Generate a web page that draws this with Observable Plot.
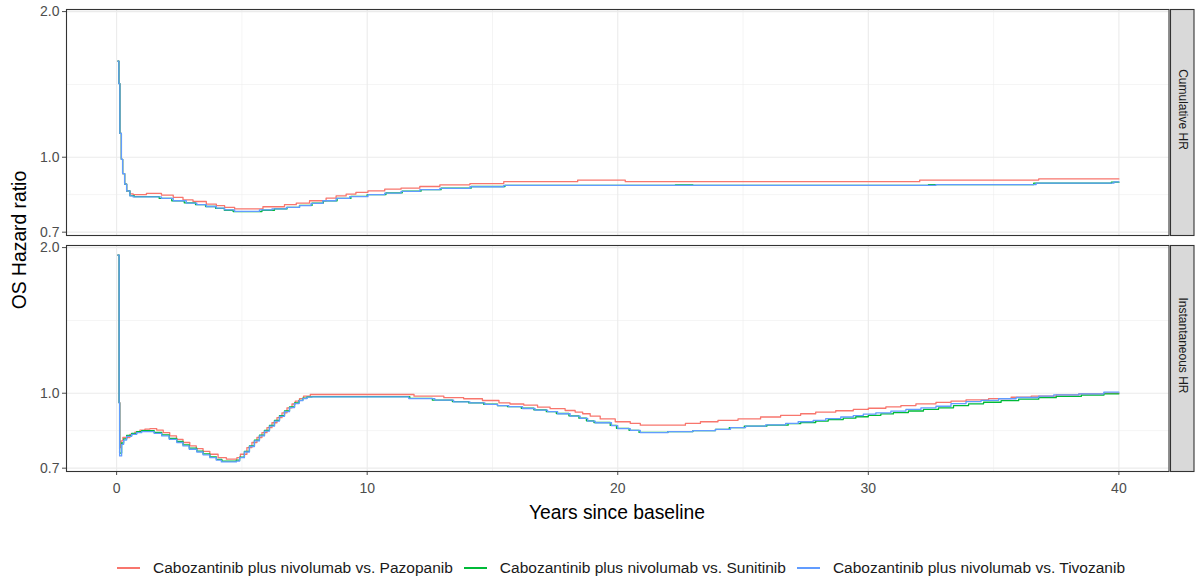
<!DOCTYPE html>
<html><head><meta charset="utf-8">
<script src="https://cdn.jsdelivr.net/npm/d3@7"></script>
<script src="https://cdn.jsdelivr.net/npm/@observablehq/plot@0.6"></script>
<style>
body{margin:0;background:#fff;font-family:"Liberation Sans",Arial,sans-serif;}
#wrap{position:relative;width:1196px;height:579px;overflow:hidden;}
#ylab{position:absolute;left:20px;top:240px;transform:translate(-50%,-50%) rotate(-90deg);font-size:19.3px;white-space:nowrap;color:#000;}
#xlab{position:absolute;left:617px;top:513px;transform:translate(-50%,-50%);font-size:19.3px;white-space:nowrap;color:#000;}
#legend{position:absolute;left:117px;top:568px;transform:translateY(-50%);display:flex;gap:11px;font-size:15.5px;color:#1a1a1a;white-space:nowrap;}
.item{display:flex;align-items:center;}
.sw{width:23px;height:1.3px;margin-right:13px;}
</style></head><body>
<div id="wrap"><div id="chart"></div><div id="ylab">OS Hazard ratio</div><div id="xlab">Years since baseline</div><div id="legend"></div></div>
<script>
const seriesNames = ["Cabozantinib plus nivolumab vs. Pazopanib","Cabozantinib plus nivolumab vs. Sunitinib","Cabozantinib plus nivolumab vs. Tivozanib"];
const seriesColors = ["#F8766D","#00BA38","#619CFF"];
const panels = ["Cumulative HR","Instantaneous HR"];
const xTicks = [0,10,20,30,40];
const xMinor = [5,15,25,35];
const yTicks = [0.7,1.0,2.0];
const yMinor = [0.837,1.414];

// Cumulative HR
const cumEarlyT = [0.05,0.09,0.13,0.19,0.24,0.32,0.40];
const cumEarlyV = [1.58,1.42,1.12,0.99,0.925,0.88,0.852];
const cumPazT = [0.53,0.66,1.19,1.79,2.26,2.65,3.05,3.58,3.98,4.31,4.71,5.84,6.7,7.17,7.7,8.36,8.76,9.16,9.55,10.03,10.7,11.35,12.1,12.9,14.1,15.45,18.4,20.3,32.05,36.8,40];
const cumPazV = [0.840,0.837,0.842,0.835,0.826,0.816,0.810,0.800,0.794,0.788,0.782,0.790,0.798,0.804,0.813,0.823,0.832,0.839,0.846,0.852,0.859,0.863,0.870,0.877,0.882,0.890,0.897,0.890,0.897,0.902,0.902];
const cumSunT = [0.53,0.7,1.7,2.2,2.7,3.15,3.55,3.95,4.3,4.65,5.8,6.3,6.8,7.3,7.8,8.25,8.8,9.35,10.0,10.75,11.4,12.15,12.95,14.15,15.5,22.3,23.0,32.4,36.6,39.7,40];
const cumSunV = [0.833,0.829,0.822,0.813,0.805,0.798,0.791,0.784,0.777,0.772,0.777,0.782,0.788,0.795,0.804,0.813,0.822,0.830,0.837,0.844,0.851,0.857,0.863,0.870,0.875,0.877,0.875,0.878,0.884,0.888,0.888];
const cumTivT = [0.53,0.66,1.79,2.26,2.78,3.2,3.58,3.98,4.31,4.71,5.7,6.2,6.77,7.3,7.76,8.23,8.76,9.3,10.03,10.7,11.35,12.1,12.9,14.1,15.45,32.7,36.7,39.8,40];
const cumTivV = [0.832,0.828,0.822,0.813,0.804,0.798,0.791,0.785,0.778,0.773,0.778,0.782,0.788,0.794,0.803,0.813,0.822,0.829,0.837,0.843,0.850,0.857,0.862,0.869,0.875,0.878,0.884,0.889,0.889];

// Instantaneous HR
const insPazT = [0.05,0.1,0.13,0.18,0.25,0.53,0.73,0.93,1.13,1.33,1.6,1.86,2.12,2.39,2.65,2.92,3.18,3.45,3.72,4.05,4.38,4.8,4.94,5.2,5.4,5.6,5.8,6.0,6.2,6.4,6.6,6.8,7.0,7.13,7.3,7.46,7.73,11.87,13.06,13.85,14.6,15.26,15.7,16.25,16.8,17.3,17.9,18.3,18.6,18.9,19.3,19.9,20.5,20.9,22.7,23.3,24.0,24.8,25.7,26.5,27.3,27.9,28.7,29.4,30.0,30.7,31.3,31.9,32.7,33.3,33.9,34.8,35.7,36.5,37.5,38.4,39.4,40];
const insPazV = [1.93,0.956,0.772,0.797,0.810,0.822,0.831,0.839,0.843,0.845,0.839,0.829,0.816,0.803,0.791,0.778,0.768,0.758,0.748,0.736,0.731,0.736,0.748,0.772,0.791,0.810,0.829,0.849,0.869,0.890,0.911,0.933,0.950,0.963,0.975,0.986,0.994,0.986,0.979,0.974,0.966,0.955,0.950,0.945,0.936,0.929,0.921,0.914,0.907,0.897,0.885,0.873,0.866,0.859,0.866,0.873,0.879,0.885,0.893,0.900,0.907,0.914,0.920,0.926,0.931,0.937,0.943,0.951,0.957,0.963,0.969,0.975,0.981,0.986,0.992,0.997,1.000,1.000];
const insSunT = [0.05,0.1,0.12,0.2,0.28,0.4,0.6,0.8,1.0,1.5,1.8,2.1,2.4,2.65,2.9,3.2,3.45,3.72,3.98,4.2,4.78,4.91,5.1,5.3,5.5,5.7,5.9,6.1,6.3,6.5,6.7,6.9,7.1,7.28,7.43,7.6,7.8,11.7,12.6,13.4,14.05,14.65,15.2,15.6,16.15,16.65,17.15,17.55,18.05,18.45,18.75,19.05,19.7,19.95,20.45,20.85,22.0,23.0,23.9,24.45,25.05,25.95,26.8,27.3,27.9,28.4,29.0,29.5,30.0,30.5,31.0,31.6,32.2,32.8,33.4,34.0,34.6,35.3,36.0,36.8,37.5,38.5,39.4,40];
const insSunV = [1.93,0.956,0.752,0.789,0.805,0.818,0.826,0.833,0.837,0.830,0.820,0.807,0.795,0.782,0.770,0.759,0.749,0.739,0.730,0.724,0.727,0.738,0.758,0.778,0.800,0.819,0.838,0.858,0.879,0.899,0.919,0.937,0.955,0.967,0.977,0.983,0.984,0.976,0.968,0.961,0.955,0.949,0.943,0.938,0.931,0.924,0.916,0.908,0.898,0.888,0.877,0.870,0.858,0.846,0.838,0.830,0.833,0.837,0.842,0.849,0.855,0.859,0.865,0.870,0.876,0.882,0.888,0.894,0.900,0.906,0.912,0.919,0.926,0.933,0.943,0.951,0.958,0.965,0.972,0.979,0.985,0.991,0.997,0.997];
const insTivT = [0.05,0.1,0.12,0.2,0.28,0.4,0.6,0.8,1.0,1.5,1.8,2.1,2.4,2.65,2.9,3.2,3.45,3.72,3.98,4.18,4.78,4.91,5.1,5.3,5.5,5.7,5.9,6.1,6.3,6.5,6.7,6.9,7.1,7.28,7.43,7.6,7.8,11.66,12.7,13.45,14.1,14.7,15.2,15.65,16.2,16.7,17.2,17.6,18.1,18.5,18.8,19.1,19.75,20.0,20.5,20.9,22.0,23.0,23.9,24.5,25.1,25.9,26.7,27.2,27.8,28.3,28.9,29.4,29.8,30.3,30.9,31.5,32.1,32.7,33.3,33.9,34.5,35.2,35.9,36.8,37.4,38.4,39.4,40];
const insTivV = [1.93,0.956,0.742,0.784,0.800,0.814,0.822,0.829,0.833,0.826,0.816,0.803,0.791,0.778,0.766,0.756,0.746,0.736,0.727,0.721,0.724,0.736,0.756,0.776,0.797,0.816,0.835,0.855,0.876,0.896,0.916,0.934,0.952,0.965,0.975,0.982,0.983,0.975,0.968,0.960,0.955,0.948,0.943,0.938,0.930,0.923,0.916,0.907,0.897,0.887,0.876,0.869,0.857,0.845,0.838,0.829,0.833,0.837,0.842,0.849,0.855,0.860,0.866,0.873,0.879,0.886,0.893,0.899,0.905,0.911,0.918,0.926,0.933,0.940,0.952,0.961,0.967,0.974,0.980,0.986,0.992,0.997,1.005,1.005];

const rows = [];
function add(panel, series, ts, vs) { ts.forEach((t, i) => rows.push({panel, series, t, v: vs[i]})); }
add(panels[0], seriesNames[0], cumEarlyT.concat(cumPazT), cumEarlyV.concat(cumPazV));
add(panels[0], seriesNames[1], cumEarlyT.concat(cumSunT), cumEarlyV.concat(cumSunV));
add(panels[0], seriesNames[2], cumEarlyT.concat(cumTivT), cumEarlyV.concat(cumTivV));
add(panels[1], seriesNames[0], insPazT, insPazV);
add(panels[1], seriesNames[1], insSunT, insSunV);
add(panels[1], seriesNames[2], insTivT, insTivV);

const plot = Plot.plot({
  width: 1196, height: 530,
  marginLeft: 66, marginRight: 27.5, marginTop: 9, marginBottom: 58,
  style: {fontFamily: "'Liberation Sans', Arial, sans-serif", fontSize: "14px", color: "#4d4d4d", background: "#fff"},
  fy: {domain: panels, paddingInner: 0.041, paddingOuter: 0, axis: null, label: null},
  x: {domain: [-2, 42], ticks: xTicks, tickFormat: d => String(d), tickSize: 4, tickPadding: 8, label: null},
  y: {type: "log", domain: [0.689, 2.02], ticks: yTicks, tickFormat: d3.format(".1f"), tickSize: 4, tickPadding: 3, label: null},
  color: {domain: seriesNames, range: seriesColors},
  marks: [
    Plot.ruleX(xMinor, {stroke: "#ebebeb", strokeWidth: 0.55}),
    Plot.ruleY(yMinor, {stroke: "#ebebeb", strokeWidth: 0.55}),
    Plot.ruleX(xTicks, {stroke: "#ebebeb", strokeWidth: 1.1}),
    Plot.ruleY(yTicks, {stroke: "#ebebeb", strokeWidth: 1.1}),
    Plot.line(rows, {x: "t", y: "v", fy: "panel", z: "series", stroke: "series", curve: "step-after", strokeWidth: 1.3}),
    Plot.frame({stroke: "#333333", strokeWidth: 1.1}),
    Plot.frame({fill: "#d9d9d9", stroke: "#333333", strokeWidth: 1.1, insetLeft: 1104, insetRight: -25}),
    Plot.text(panels, {fy: d => d, text: d => d, frameAnchor: "right", dx: 13.5, dy: -13, rotate: 90, textAnchor: "middle", lineAnchor: "middle", fontSize: 12, fill: "#1a1a1a"})
  ]
});
document.getElementById("chart").appendChild(plot);

const legend = document.getElementById("legend");
seriesNames.forEach((name, i) => {
  const item = document.createElement("div"); item.className = "item";
  const sw = document.createElement("div"); sw.className = "sw"; sw.style.background = seriesColors[i];
  const tx = document.createElement("span"); tx.textContent = name;
  item.appendChild(sw); item.appendChild(tx); legend.appendChild(item);
});
</script>
</body></html>
